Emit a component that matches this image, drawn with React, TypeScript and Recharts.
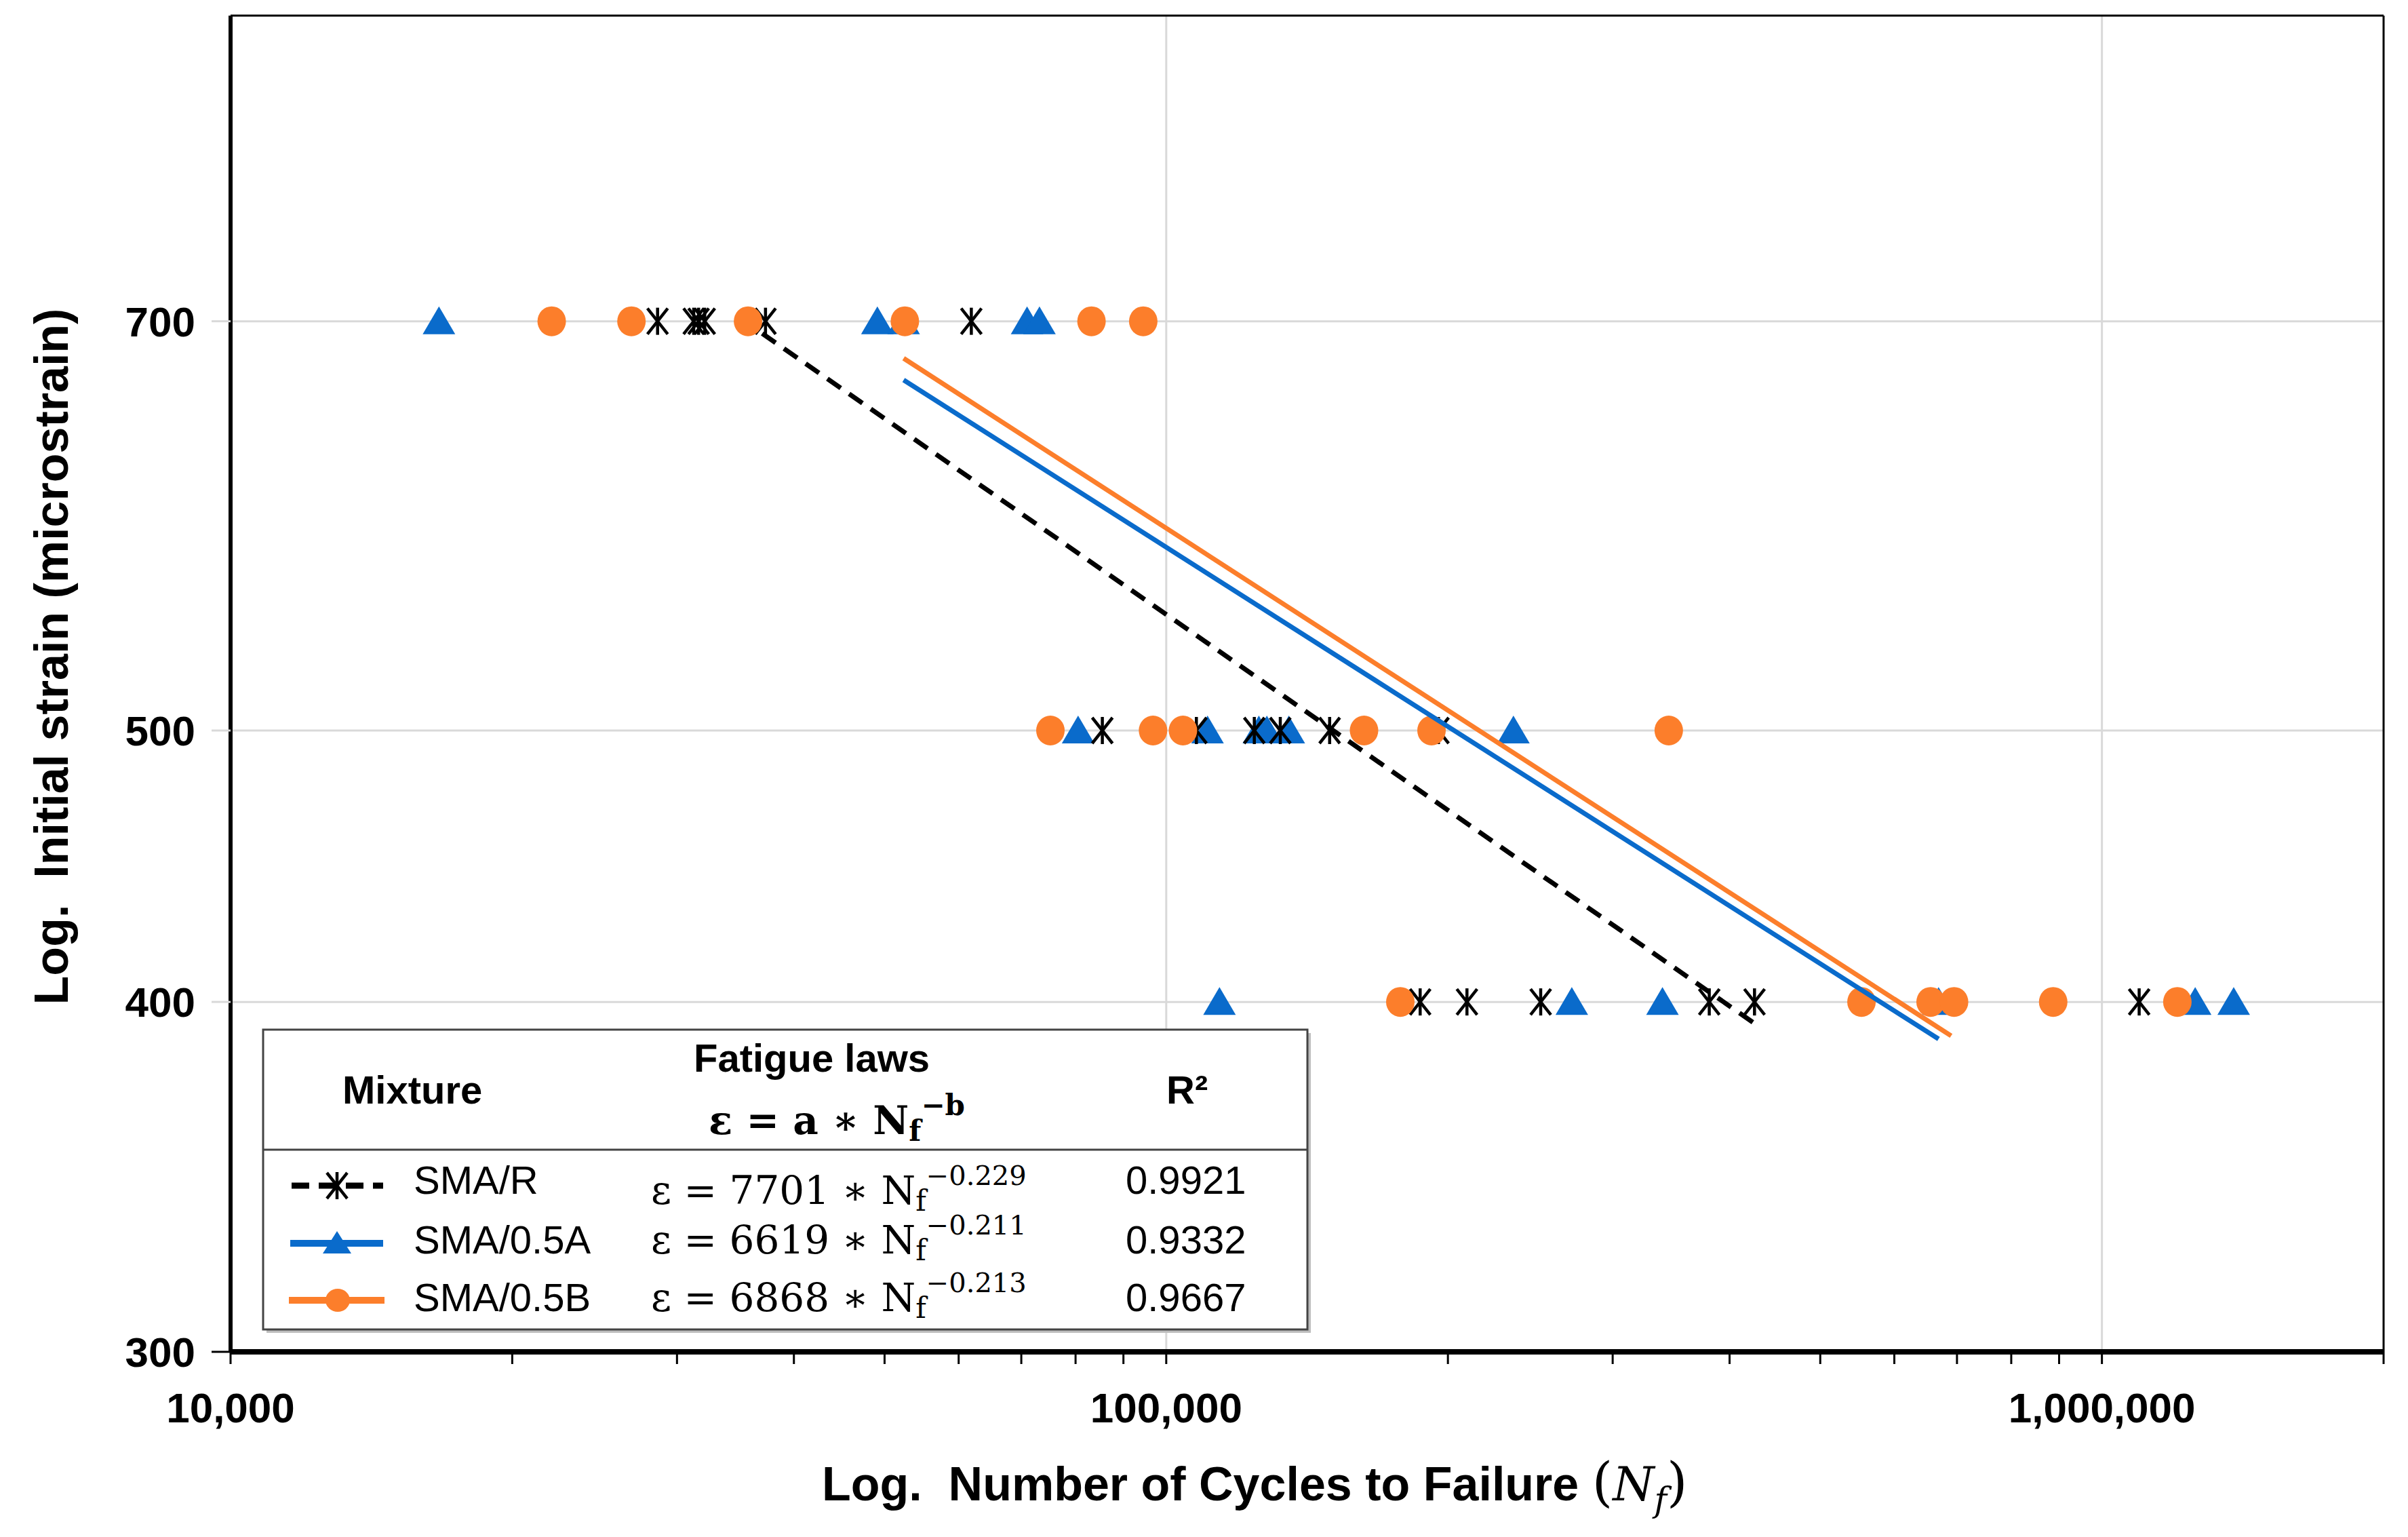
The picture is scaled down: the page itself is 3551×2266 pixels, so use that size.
import React from 'react';
import { ScatterChart, Scatter, XAxis, YAxis, ReferenceLine } from 'recharts';

// strain levels tested (microstrain)
const strainLevels = [700, 500, 400];

// cycles to failure, one list per strain level (700, 500, 400)
const smaRCycles = [
  [28600, 31260, 31640, 32120, 37300, 61900],
  [85450, 107700, 124200, 132400, 149500, 195400],
  [186800, 209600, 251300, 380500, 425300, 1096000],
];
const smaACycles = [
  [16700, 49120, 52400, 71000, 73200],
  [80500, 110700, 125600, 128100, 135200, 235000],
  [114000, 271300, 339100, 669000, 1258000, 1383000],
];
const smaBCycles = [
  [22040, 26820, 35730, 52560, 83200, 94500],
  [75200, 96800, 104200, 162700, 192100, 344400],
  [177900, 553400, 656000, 695000, 887000, 1204000],
];

// fitted line end points
const smaRFitX = [37000, 425300];
const smaRFitY = [693, 393];
const smaAFitX = [52400, 669000];
const smaAFitY = [667, 388];
const smaBFitX = [52400, 690000];
const smaBFitY = [679, 389];

const xTicks = [
  10000, 20000, 30000, 40000, 50000, 60000, 70000, 80000, 90000,
  100000, 200000, 300000, 400000, 500000, 600000, 700000, 800000, 900000,
  1000000, 2000000,
];
const xLabelTicks = [10000, 100000, 1000000];
const yTicks = [300, 400, 500, 700];

// legend table rows
const mixtures = ['SMA/R', 'SMA/0.5A', 'SMA/0.5B'];
const lawA = ['7701', '6619', '6868'];
const lawB = ['−0.229', '−0.211', '−0.213'];
const rSquared = ['0.9921', '0.9332', '0.9667'];

const BLUE = '#0A6BCB';
const ORANGE = '#FC7E2B';
const GRID = '#D9D9D9';
const SANS = '"Liberation Sans", Arial, sans-serif';
const SERIF = '"DejaVu Serif", serif';

const toPoints = (rows: number[][]) =>
  rows.flatMap((row, i) => row.map((x) => ({ x, y: strainLevels[i] })));
const toLine = (xs: number[], ys: number[]) => xs.map((x, i) => ({ x, y: ys[i] }));

const TriangleMark = (p: any) => (
  <path
    d={`M${p.cx},${p.cy - 22} L${p.cx + 24},${p.cy + 19} L${p.cx - 24},${p.cy + 19} Z`}
    fill={BLUE}
  />
);
const DotMark = (p: any) => <ellipse cx={p.cx} cy={p.cy} rx={21} ry={22} fill={ORANGE} />;
const StarMark = (p: any) => (
  <g stroke="#000" strokeWidth={4.5}>
    <line x1={p.cx} y1={p.cy - 20} x2={p.cx} y2={p.cy + 20} />
    <line x1={p.cx - 15} y1={p.cy - 19} x2={p.cx + 15} y2={p.cy + 19} />
    <line x1={p.cx - 15} y1={p.cy + 19} x2={p.cx + 15} y2={p.cy - 19} />
  </g>
);
const NoMark = () => <g />;

const YTick = (props: any) => {
  const { x, y, payload } = props;
  return (
    <g>
      <line
        x1={x + 24}
        x2={x + 52}
        y1={y}
        y2={y}
        stroke={payload.value === 300 ? '#000' : GRID}
        strokeWidth={3}
      />
      <text x={x} y={y} dy={22} textAnchor="end" fontFamily={SANS} fontWeight={700} fontSize={62} fill="#000">
        {payload.value}
      </text>
    </g>
  );
};

const fmtX = (v: number) => (xLabelTicks.includes(v) ? v.toLocaleString('en-US') : '');

const rowBase = [1752, 1840, 1925];
const rowLine = [1740, 1825, 1909];

const Overlay = () => (
  <svg width={3535} height={2250} style={{ position: 'absolute', left: 0, top: 0, pointerEvents: 'none' }}>
    {/* axis titles */}
    <text x={1204} y={2204} fontFamily={SANS} fontWeight={700} fontSize={70} fill="#000">
      {'Log.\u00A0 Number of Cycles to Failure '}
      <tspan fontFamily={SERIF} fontWeight={400} fontSize={78}>(</tspan>
      <tspan fontFamily={SERIF} fontWeight={400} fontStyle="italic" fontSize={70}>N</tspan>
      <tspan fontFamily={SERIF} fontWeight={400} fontStyle="italic" fontSize={50} dy={16}>f</tspan>
      <tspan fontFamily={SERIF} fontWeight={400} fontSize={78} dy={-16}>)</tspan>
    </text>
    <text
      x={0}
      y={0}
      transform="translate(92, 960) rotate(-90)"
      textAnchor="middle"
      fontFamily={SANS}
      fontWeight={700}
      fontSize={70}
      fill="#000"
    >
      {'Log.\u00A0 Initial strain (microstrain)'}
    </text>

    {/* legend table */}
    <rect x={385} y={1515} width={1540} height={442} fill="#BDBDBD" />
    <rect x={380} y={1510} width={1540} height={442} fill="#fff" stroke="#444" strokeWidth={3} />
    <line x1={380} x2={1920} y1={1687} y2={1687} stroke="#444" strokeWidth={3} />
    <text x={497} y={1619} fontFamily={SANS} fontWeight={700} fontSize={58}>Mixture</text>
    <text x={1189} y={1572} textAnchor="middle" fontFamily={SANS} fontWeight={700} fontSize={58}>
      Fatigue laws
    </text>
    <text x={1037} y={1664} fontFamily={SERIF} fontWeight={700} fontSize={58}>
      ε = a ∗ N
      <tspan fontSize={42} dy={10}>f</tspan>
      <tspan fontSize={42} dy={-38}>−b</tspan>
    </text>
    <text x={1712} y={1619} fontFamily={SANS} fontWeight={700} fontSize={58}>R²</text>

    {/* legend symbols */}
    <line x1={422} x2={557} y1={rowLine[0]} y2={rowLine[0]} stroke="#000" strokeWidth={9} strokeDasharray="26 14" />
    <StarMark cx={489} cy={rowLine[0]} />
    <line x1={420} x2={557} y1={rowLine[1]} y2={rowLine[1]} stroke={BLUE} strokeWidth={10} />
    <path d={`M489,${rowLine[1] - 18} L510,${rowLine[1] + 15} L468,${rowLine[1] + 15} Z`} fill={BLUE} />
    <line x1={418} x2={559} y1={rowLine[2]} y2={rowLine[2]} stroke={ORANGE} strokeWidth={10} />
    <ellipse cx={490} cy={rowLine[2]} rx={18} ry={17} fill={ORANGE} />

    {mixtures.map((m, i) => (
      <g key={m}>
        <text x={602} y={rowBase[i]} fontFamily={SANS} fontSize={58} fill="#000">{m}</text>
        <text x={952} y={i === 0 ? 1767 : rowBase[i]} fontFamily={SERIF} fontSize={58} fill="#000">
          {`ε = ${lawA[i]} ∗ N`}
          <tspan fontSize={42} dy={10}>f</tspan>
          <tspan fontSize={40} dy={-38}>{lawB[i]}</tspan>
        </text>
        <text x={1652} y={rowBase[i]} fontFamily={SANS} fontSize={58} fill="#000">{rSquared[i]}</text>
      </g>
    ))}
  </svg>
);

const App: React.FC = () => {
  return (
    <div style={{ position: 'relative', width: 3535, height: 2250, background: '#fff' }}>
      <ScatterChart width={3535} height={2250} margin={{ top: 15, right: 28, bottom: 0, left: 0 }}>
        <XAxis
          type="number"
          dataKey="x"
          scale="log"
          domain={[10000, 2000000]}
          allowDataOverflow
          ticks={xTicks}
          interval={0}
          tickFormatter={fmtX}
          height={265}
          axisLine={{ stroke: '#000', strokeWidth: 8 }}
          tickLine={{ stroke: '#000', strokeWidth: 3 }}
          tickSize={18}
          tickMargin={42}
          tick={{ fontFamily: SANS, fontWeight: 700, fontSize: 62, fill: '#000' }}
        />
        <YAxis
          type="number"
          dataKey="y"
          scale="log"
          domain={[300, 900]}
          allowDataOverflow
          ticks={yTicks}
          interval={0}
          width={332}
          axisLine={{ stroke: '#000', strokeWidth: 6 }}
          tickLine={false}
          tickSize={28}
          tickMargin={24}
          tick={YTick}
        />
        <ReferenceLine y={700} stroke={GRID} strokeWidth={3} />
        <ReferenceLine y={500} stroke={GRID} strokeWidth={3} />
        <ReferenceLine y={400} stroke={GRID} strokeWidth={3} />
        <ReferenceLine x={100000} stroke={GRID} strokeWidth={3} />
        <ReferenceLine x={1000000} stroke={GRID} strokeWidth={3} />
        <ReferenceLine y={900} stroke="#000" strokeWidth={3} />
        <ReferenceLine x={2000000} stroke="#000" strokeWidth={3} />

        <Scatter data={toPoints(smaACycles)} shape={TriangleMark} isAnimationActive={false} />
        <Scatter data={toPoints(smaRCycles)} shape={StarMark} isAnimationActive={false} />
        <Scatter data={toPoints(smaBCycles)} shape={DotMark} isAnimationActive={false} />

        <Scatter
          data={toLine(smaRFitX, smaRFitY)}
          shape={NoMark}
          line={{ stroke: '#000', strokeWidth: 7, strokeDasharray: '24 15' }}
          isAnimationActive={false}
        />
        <Scatter
          data={toLine(smaAFitX, smaAFitY)}
          shape={NoMark}
          line={{ stroke: BLUE, strokeWidth: 7 }}
          isAnimationActive={false}
        />
        <Scatter
          data={toLine(smaBFitX, smaBFitY)}
          shape={NoMark}
          line={{ stroke: ORANGE, strokeWidth: 7 }}
          isAnimationActive={false}
        />
      </ScatterChart>
      <Overlay />
    </div>
  );
};

export default App;
